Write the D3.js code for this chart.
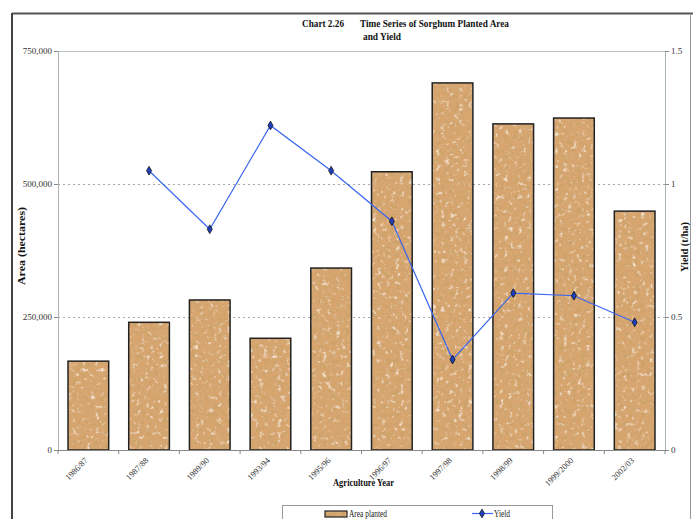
<!DOCTYPE html>
<html><head><meta charset="utf-8">
<script src="https://cdn.jsdelivr.net/npm/d3@7"></script>
<style>body{margin:0;background:#fff}svg{display:block;font-family:"Liberation Serif","Times New Roman",serif}</style>
</head><body>
<script>
const categories = ["1986/87","1987/88","1989/90","1993/94","1995/96","1996/97","1997/98","1998/99","1999/2000","2002/03"];
const areaPlanted = [167000,240000,282000,210000,342000,523000,690000,613000,624000,449000];
const yieldValues = [null,1.05,0.83,1.22,1.05,0.86,0.34,0.59,0.58,0.48];
const leftTicks = [0,250000,500000,750000];
const rightTicks = [0,0.5,1,1.5];

const W=693,H=519;
const m={l:58,r:665,t:51,b:450};
const svg=d3.select("body").append("svg").attr("width",W).attr("height",H);
const defs=svg.append("defs");
const f=defs.append("filter").attr("id","cork").attr("filterUnits","userSpaceOnUse")
 .attr("x",0).attr("y",0).attr("width",W).attr("height",H);
f.append("feTurbulence").attr("type","fractalNoise").attr("baseFrequency",0.22).attr("numOctaves",3).attr("seed",7).attr("result","n");
f.append("feColorMatrix").attr("in","n").attr("type","matrix")
 .attr("values","0 0 0 0 0.6  0 0 0 0 0.36  0 0 0 0 0.14  4 0 0 0 -2.05").attr("result","dark");
f.append("feColorMatrix").attr("in","n").attr("type","matrix")
 .attr("values","0 0 0 0 0.93  0 0 0 0 0.82  0 0 0 0 0.66  0 -3.5 0 0 1.45").attr("result","light");
const mg=f.append("feMerge").attr("result","mix");
mg.append("feMergeNode").attr("in","SourceGraphic");
mg.append("feMergeNode").attr("in","light");
mg.append("feMergeNode").attr("in","dark");
f.append("feComposite").attr("in","mix").attr("in2","SourceGraphic").attr("operator","in");

// frame
svg.append("line").attr("x1",12).attr("x2",W).attr("y1",13.5).attr("y2",13.5).attr("stroke","#555").attr("stroke-width",2);
svg.append("line").attr("x1",12).attr("x2",12).attr("y1",13).attr("y2",H).attr("stroke","#444").attr("stroke-width",2);
svg.append("line").attr("x1",690.5).attr("x2",690.5).attr("y1",14).attr("y2",H).attr("stroke","#999").attr("stroke-width",1);

// title
const tt=svg.append("text").attr("font-weight","bold").attr("font-size",11).attr("fill","#111");
tt.append("tspan").attr("x",302).attr("y",27).attr("textLength",42).attr("lengthAdjust","spacingAndGlyphs").text("Chart 2.26");
tt.append("tspan").attr("x",360).attr("y",27).attr("textLength",149).attr("lengthAdjust","spacingAndGlyphs").text("Time Series of Sorghum Planted Area");
tt.append("tspan").attr("x",363).attr("y",39.5).attr("textLength",38).attr("lengthAdjust","spacingAndGlyphs").text("and Yield");

const x=d3.scaleBand().domain(categories).range([m.l,m.r]).paddingInner(0.33).paddingOuter(0.165);
const yL=d3.scaleLinear().domain([0,750000]).range([m.b,m.t]);
const yR=d3.scaleLinear().domain([0,1.5]).range([m.b,m.t]);

// gridlines
svg.append("g").selectAll("line").data([250000,500000]).join("line")
 .attr("x1",m.l).attr("x2",m.r).attr("y1",d=>yL(d)+0.5).attr("y2",d=>yL(d)+0.5)
 .attr("stroke","#aaa").attr("stroke-dasharray","2,3");
svg.append("line").attr("x1",m.l).attr("x2",m.r).attr("y1",m.t+0.5).attr("y2",m.t+0.5).attr("stroke","#b8c4c4");

// bars
const bars=svg.append("g");
bars.selectAll("rect.fill").data(categories).join("rect").attr("class","fill")
 .attr("x",d=>x(d)).attr("width",x.bandwidth())
 .attr("y",(d,i)=>yL(areaPlanted[i])).attr("height",(d,i)=>m.b-yL(areaPlanted[i]))
 .attr("fill","#d7a670").attr("filter","url(#cork)");
bars.selectAll("rect.edge").data(categories).join("rect").attr("class","edge")
 .attr("x",d=>x(d)).attr("width",x.bandwidth())
 .attr("y",(d,i)=>yL(areaPlanted[i])).attr("height",(d,i)=>m.b-yL(areaPlanted[i]))
 .attr("fill","none").attr("stroke","#222").attr("stroke-width",1.5);

// axes
const ax=d3.axisLeft(yL).tickValues(leftTicks).tickFormat(d3.format(",")).tickSize(4);
const gL=svg.append("g").attr("transform",`translate(${m.l},0)`).call(ax);
const ar=d3.axisRight(yR).tickValues(rightTicks).tickFormat(d=>d3.format("")(d)).tickSize(4);
const gR=svg.append("g").attr("transform",`translate(${m.r},0)`).call(ar);
[gL,gR].forEach(g=>{g.select(".domain").attr("stroke","#a9b5b5");g.selectAll(".tick line").attr("stroke","#888");
 g.selectAll("text").attr("font-family","Liberation Serif").attr("font-size",9).attr("fill","#333");});
gL.selectAll("text").attr("x",-6);
gR.selectAll("text").attr("x",6);

// x axis
svg.append("line").attr("x1",m.l).attr("x2",m.r).attr("y1",m.b+0.5).attr("y2",m.b+0.5).attr("stroke","#888");
const step=x.step();
svg.append("g").selectAll("line").data(d3.range(categories.length+1)).join("line")
 .attr("x1",i=>m.l+i*step).attr("x2",i=>m.l+i*step).attr("y1",m.b).attr("y2",m.b+4).attr("stroke","#888");
svg.append("g").selectAll("text").data(categories).join("text")
 .attr("transform",d=>`translate(${x(d)+x.bandwidth()/2},${m.b+11}) rotate(-45)`)
 .attr("text-anchor","end").attr("font-size",8.5).attr("fill","#333").text(d=>d);

// axis titles
svg.append("text").attr("x",333).attr("y",486).attr("textLength",61).attr("lengthAdjust","spacingAndGlyphs").attr("font-weight","bold").attr("font-size",10).attr("fill","#111").text("Agriculture Year");
svg.append("text").attr("transform","translate(25,285) rotate(-90)").attr("textLength",78).attr("lengthAdjust","spacingAndGlyphs").attr("font-weight","bold").attr("font-size",9.5).attr("fill","#111").text("Area (hectares)");
svg.append("text").attr("transform","translate(688,272) rotate(-90)").attr("textLength",50).attr("lengthAdjust","spacingAndGlyphs").attr("font-weight","bold").attr("font-size",9.5).attr("fill","#111").text("Yield (t/ha)");

// yield line
const pts=categories.map((c,i)=>({c,v:yieldValues[i]})).filter(d=>d.v!=null);
const line=d3.line().x(d=>x(d.c)+x.bandwidth()/2).y(d=>yR(d.v));
svg.append("path").datum(pts).attr("d",line).attr("fill","none").attr("stroke","#3a66f0").attr("stroke-width",1.2);
const diamond=d3.symbol().type(d3.symbolDiamond).size(22);
svg.append("g").selectAll("path").data(pts).join("path")
 .attr("transform",d=>`translate(${x(d.c)+x.bandwidth()/2},${yR(d.v)})`)
 .attr("d",diamond).attr("fill","#1f3fc0").attr("stroke","#111").attr("stroke-width",0.8);

// legend
const lg=svg.append("g");
lg.append("rect").attr("x",282.5).attr("y",505.5).attr("width",270).attr("height",30).attr("fill","#fff").attr("stroke","#999");
lg.append("rect").attr("x",325).attr("y",511).attr("width",22).attr("height",6).attr("fill","#d7a670").attr("filter","url(#cork)");
lg.append("rect").attr("x",325).attr("y",511).attr("width",22).attr("height",6).attr("fill","none").attr("stroke","#222").attr("stroke-width",1.2);
lg.append("text").attr("x",349).attr("y",517).attr("textLength",38).attr("lengthAdjust","spacingAndGlyphs").attr("font-size",9.5).attr("fill","#222").text("Area planted");
lg.append("line").attr("x1",472).attr("x2",493).attr("y1",513.5).attr("y2",513.5).attr("stroke","#3a66f0").attr("stroke-width",1.2);
lg.append("path").attr("transform","translate(482,513.5)").attr("d",diamond).attr("fill","#1f3fc0").attr("stroke","#111").attr("stroke-width",0.8);
lg.append("text").attr("x",494).attr("y",517).attr("textLength",16).attr("lengthAdjust","spacingAndGlyphs").attr("font-size",9.5).attr("fill","#222").text("Yield");
</script>
</body></html>
